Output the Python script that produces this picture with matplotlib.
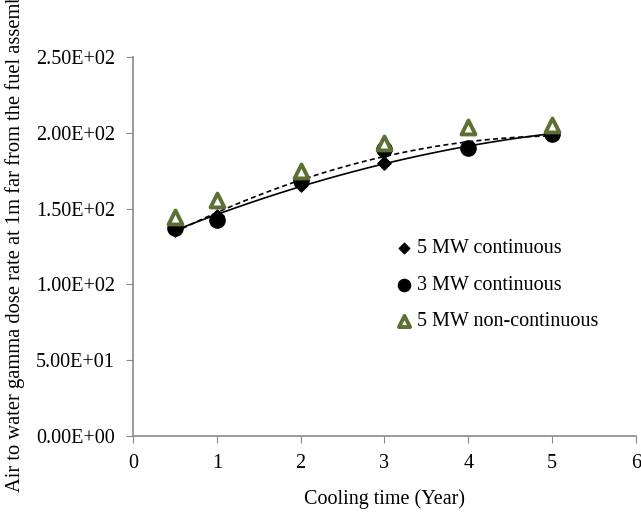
import matplotlib
matplotlib.use('Agg')
import matplotlib.pyplot as plt
from matplotlib.ticker import FuncFormatter
import numpy as np

plt.rcParams['font.family'] = ['Liberation Serif', 'DejaVu Serif']

# data
years = [0.5, 1, 2, 3, 4, 5]
mw5_cont = [136, 145, 165.5, 180, 190, 200]
mw3_cont = [137.5, 142.5, 169, 189, 190, 199]
mw5_noncont = [144.5, 155.5, 175, 193, 204, 205]

fig = plt.figure(figsize=(6.41, 5.12), dpi=100)
ax = fig.add_axes([0.2075, 0.1484, 0.7845, 0.7403])

# trend lines (2nd order polynomial fits)
xs = np.linspace(0.5, 5, 100)
p_solid = np.polyfit(years, mw5_cont, 2)
p_dash = np.polyfit(years, mw3_cont, 2)
ax.plot(xs, np.polyval(p_solid, xs), color='black', lw=1.2, zorder=2)
ax.plot(xs, np.polyval(p_dash, xs), color='black', lw=1.2, ls=(0, (3, 2)), zorder=2)

ax.scatter(years, mw3_cont, marker='o', s=120, color='black', zorder=3,
           label='3 MW continuous')
ax.scatter(years, mw5_cont, marker='D', s=45, color='black', zorder=4,
           label='5 MW continuous')
ax.scatter(years, mw5_noncont, marker='^', s=100, facecolor='white',
           edgecolor='#5b7032', linewidths=2.8, zorder=5,
           label='5 MW non-continuous')

ax.set_xlim(0, 6)
ax.set_ylim(0, 250)
ax.set_xticks(range(0, 7))
ax.set_yticks(np.arange(0, 251, 50))
ax.yaxis.set_major_formatter(FuncFormatter(lambda v, p: '{:.2E}'.format(v)))

for s in ['top', 'right']:
    ax.spines[s].set_visible(False)
for s in ['left', 'bottom']:
    ax.spines[s].set_color('#898989')
    ax.spines[s].set_linewidth(1.2)
ax.tick_params(direction='out', length=5, color='#898989', labelsize=14.5, pad=8)

ax.set_xlabel('Cooling time (Year)', fontsize=14.5, labelpad=12)
fig.text(0.024, 0.04, 'Air to water gamma dose rate at 1m far from the fuel assembly',
         rotation=90, fontsize=14.8, ha='center', va='bottom')

h, l = ax.get_legend_handles_labels()
order = [1, 0, 2]
ax.legend([h[i] for i in order], [l[i] for i in order], frameon=False,
          loc='upper left', bbox_to_anchor=(0.587, 0.568),
          bbox_transform=fig.transFigure, fontsize=14.5, labelspacing=0.86,
          handletextpad=0.1, handlelength=1.0, markerscale=0.8)

fig.savefig('out.png', dpi=100)
